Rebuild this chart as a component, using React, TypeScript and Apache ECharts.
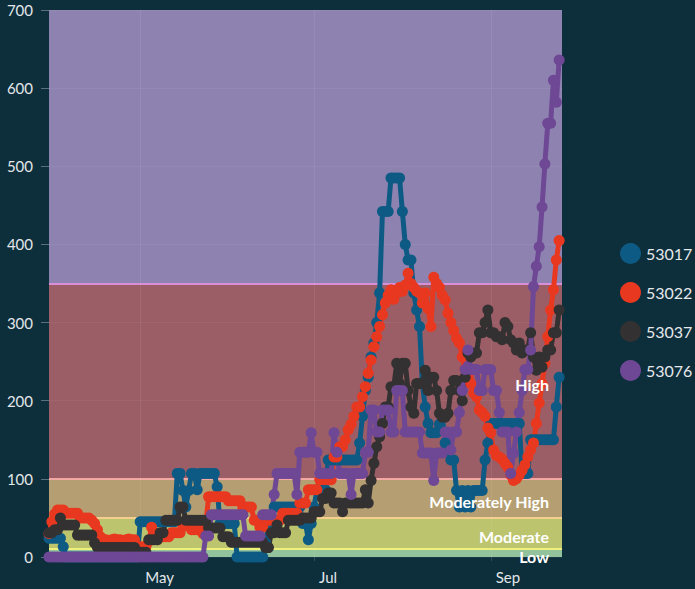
import React, { useEffect, useRef } from "react";
import * as echarts from "echarts";

// ---- x domain (daily) ----
const START_DATE = "2021-03-30";
const DAY_COUNT = 181;
const MONTH_TICKS = ["05-01", "07-01", "09-01"];
const MONTH_LABELS: Record<string, string> = { "05": "May", "07": "Jul", "09": "Sep" };

// ---- series ----
const SERIES_NAMES = ["53017", "53022", "53037", "53076"];
const SERIES_COLORS = ["#0d5a84", "#e8381f", "#333131", "#6e4795"];

const s53017 = [
  24, 24, 24, 24, 24, 13, 0, 0, 0, 0,
  0, 0, 0, 0, 0, 0, 0, 0, 0, 0,
  0, 0, 0, 0, 0, 0, 0, 0, 0, 0,
  0, 0, 45, 45, 45, 45, 45, 45, 45, 45,
  45, 45, 45, 45, 45, 107, 107, 85, 64, 85,
  107, 107, 86, 107, 107, 107, 107, 107, 107, 90,
  43, 43, 43, 43, 43, 43, 0, 0, 0, 0,
  0, 0, 0, 0, 0, 0, 18, 43, 43, 64,
  64, 64, 64, 64, 64, 64, 64, 64, 64, 43,
  43, 22, 43, 64, 86, 86, 86, 86, 124, 124,
  124, 124, 124, 124, 124, 124, 124, 124, 124, 146,
  180, 213, 230, 256, 274, 300, 338, 442, 442, 442,
  485, 485, 485, 485, 442, 400, 380, 380, 338, 316,
  295, 222, 192, 171, 159, 159, 159, 170, 180, 146,
  137, 124, 124, 85, 64, 85, 64, 85, 64, 85,
  85, 85, 85, 124, 146, 171, 171, 171, 171, 171,
  171, 171, 171, 171, 171, 171, 107, 107, 107, 150,
  150, 150, 150, 150, 150, 150, 150, 150, 192, 230,
];

const s53022 = [
  30, 45, 55, 60, 60, 60, 56, 56, 56, 56,
  56, 50, 50, 50, 50, 47, 43, 35, 26, 22,
  22, 21, 22, 23, 22, 22, 21, 22, 23, 22,
  22, 13, 13, 13, 13, 20, 38, 30, 22, 26,
  26, 26, 26, 31, 31, 31, 31, 40, 40, 40,
  35, 35, 35, 41, 30, 41, 77, 77, 77, 77,
  77, 77, 77, 72, 72, 72, 72, 72, 64, 64,
  64, 64, 47, 47, 38, 38, 47, 47, 47, 47,
  47, 47, 56, 56, 56, 56, 56, 56, 69, 69,
  69, 86, 86, 86, 86, 99, 99, 99, 99, 99,
  128, 128, 141, 141, 150, 163, 170, 180, 192, 192,
  205, 218, 235, 252, 269, 282, 295, 310, 325, 335,
  342, 330, 338, 345, 340, 348, 363, 350, 345, 340,
  338, 325, 338, 318, 295, 358, 350, 345, 335, 329,
  312, 300, 290, 280, 274, 256, 240, 230, 222, 210,
  205, 188, 185, 180, 165, 159, 137, 130, 128, 125,
  120, 115, 105, 98, 100, 105, 111, 118, 128, 137,
  146, 171, 197, 222, 248, 282, 316, 342, 380, 405,
];

const s53037 = [
  31, 31, 35, 35, 50, 41, 41, 41, 41, 41,
  28, 28, 28, 28, 28, 28, 18, 12, 12, 12,
  12, 12, 12, 12, 12, 12, 12, 12, 12, 12,
  12, 6, 6, 6, 6, 22, 22, 22, 22, 31,
  31, 47, 47, 47, 47, 47, 64, 64, 47, 47,
  47, 47, 47, 47, 47, 47, 37, 37, 37, 37,
  37, 26, 26, 26, 19, 19, 19, 19, 19, 19,
  19, 19, 19, 19, 19, 19, 12, 12, 31, 31,
  41, 31, 31, 31, 47, 47, 47, 47, 47, 50,
  50, 50, 50, 58, 58, 58, 75, 75, 82, 82,
  69, 69, 69, 58, 69, 69, 69, 69, 69, 69,
  69, 86, 69, 98, 120, 141, 154, 171, 192, 192,
  218, 218, 248, 222, 248, 248, 213, 192, 184, 222,
  222, 222, 239, 213, 230, 230, 213, 184, 179, 179,
  184, 213, 226, 226, 213, 200, 230, 261, 256, 261,
  261, 287, 287, 300, 316, 287, 287, 282, 282, 278,
  300, 295, 278, 274, 265, 274, 261, 265, 265, 287,
  256, 239, 256, 243, 256, 265, 265, 287, 287, 316,
];

const s53076 = [
  0, 0, 0, 0, 0, 0, 0, 0, 0, 0,
  0, 0, 0, 0, 0, 0, 0, 0, 0, 0,
  0, 0, 0, 0, 0, 0, 0, 0, 0, 0,
  0, 0, 0, 0, 0, 0, 0, 0, 0, 0,
  0, 0, 0, 0, 0, 0, 0, 0, 0, 0,
  0, 0, 0, 0, 0, 27, 27, 54, 54, 54,
  54, 54, 54, 54, 54, 54, 54, 54, 54, 27,
  27, 27, 27, 27, 27, 54, 54, 54, 54, 80,
  107, 107, 107, 107, 107, 107, 107, 80, 134, 134,
  134, 134, 159, 134, 134, 107, 107, 107, 107, 107,
  159, 134, 107, 107, 107, 107, 80, 107, 107, 107,
  107, 134, 134, 188, 188, 160, 160, 188, 188, 188,
  160, 160, 213, 213, 213, 160, 160, 160, 160, 160,
  160, 133, 133, 133, 133, 98, 133, 133, 133, 160,
  160, 137, 160, 160, 185, 213, 240, 265, 240, 240,
  240, 213, 213, 240, 240, 240, 213, 213, 185, 160,
  160, 160, 107, 133, 160, 185, 213, 240, 240, 265,
  346, 372, 397, 448, 503, 555, 555, 610, 582, 636,
];

const SERIES_VALUES = [s53017, s53022, s53037, s53076];

// ---- y axis ----
const Y_MIN = 0;
const Y_MAX = 700;
const Y_STEP = 100;

// ---- risk bands ----
const BAND_EDGES = [0, 10, 50, 100, 350, 700];
const BAND_NAMES = ["Low", "Moderate", "Moderately High", "High", ""];
const BAND_COLORS = ["#93c39d", "#bcc46e", "#b59f72", "#9c5e66", "#8e83b0"];
const BAND_LINE_VALUES = [10, 50, 100, 350];
const BAND_LINE_COLORS = ["#eef27c", "#f5cf90", "#f2a6a2", "#d98fd8"];

const FONT = "Lato, 'Open Sans', sans-serif";
const BG = "#0d2e3b";

function buildDates(start: string, n: number): string[] {
  const d0 = Date.parse(start + "T00:00:00Z");
  const out: string[] = [];
  for (let i = 0; i < n; i++) {
    out.push(new Date(d0 + i * 86400000).toISOString().slice(0, 10));
  }
  return out;
}

export default function App() {
  const ref = useRef<HTMLDivElement>(null);

  useEffect(() => {
    document.body.style.margin = "0";
    document.body.style.background = BG;
    if (!ref.current) return;
    const chart = echarts.init(ref.current, undefined, { renderer: "svg" });
    const dates = buildDates(START_DATE, DAY_COUNT);
    const isMonthTick = (_i: number, v: string) => MONTH_TICKS.includes(String(v).slice(5));

    const bandAreas = BAND_NAMES.map((name, k) => [
      {
        name,
        yAxis: BAND_EDGES[k],
        itemStyle: { color: BAND_COLORS[k], opacity: 1 },
        label: { show: false },
      },
      { yAxis: BAND_EDGES[k + 1] },
    ]);

    const bandLabelAreas = BAND_NAMES.filter((n) => n !== "").map((name) => {
      const k = BAND_NAMES.indexOf(name);
      return [
        {
          name,
          yAxis: BAND_EDGES[k],
          itemStyle: { color: "rgba(0,0,0,0)", opacity: 0 },
          label: {
            show: true,
            position: "insideRight",
            distance: 13,
            offset: [0, 3],
            color: "#ffffff",
            fontWeight: "bold",
            fontSize: 16,
            fontFamily: FONT,
          },
        },
        { yAxis: BAND_EDGES[k + 1] },
      ];
    });

    const bandLines = BAND_LINE_VALUES.map((v, k) => ({
      yAxis: v,
      lineStyle: { color: BAND_LINE_COLORS[k], width: 2, type: "solid", opacity: 1 },
    }));

    const option: any = {
      animation: false,
      backgroundColor: BG,
      grid: { left: 49, right: 133, top: 10, bottom: 32, containLabel: false },
      legend: {
        orient: "vertical",
        left: 615,
        top: 238,
        itemWidth: 21,
        itemHeight: 21,
        itemGap: 18,
        icon: "circle",
        data: SERIES_NAMES,
        textStyle: { color: "#e6e9eb", fontSize: 16, fontFamily: FONT },
      },
      xAxis: {
        type: "category",
        data: dates,
        boundaryGap: false,
        z: 2,
        axisLine: { show: false },
        axisTick: {
          show: true,
          interval: isMonthTick,
          length: 4,
          lineStyle: { color: "rgba(255,255,255,0.15)" },
        },
        axisLabel: {
          interval: isMonthTick,
          formatter: (v: string) => MONTH_LABELS[String(v).slice(5, 7)] || "",
          align: "left",
          padding: [0, 0, 0, 5],
          margin: 12,
          color: "#e3e7ea",
          fontSize: 15,
          fontFamily: FONT,
        },
        splitLine: {
          show: true,
          interval: isMonthTick,
          lineStyle: { color: "rgba(255,255,255,0.07)", width: 1 },
        },
      },
      yAxis: {
        type: "value",
        min: Y_MIN,
        max: Y_MAX,
        interval: Y_STEP,
        z: 2,
        axisLine: { show: false },
        axisTick: { show: true, length: 8, lineStyle: { color: "#5a6f7b" } },
        axisLabel: { color: "#e3e7ea", fontSize: 15, margin: 16, fontFamily: FONT },
        splitLine: { show: true, lineStyle: { color: "rgba(255,255,255,0.05)", width: 1 } },
      },
      series: [
        {
          name: "bands",
          type: "line",
          data: [],
          z: 1,
          silent: true,
          markArea: { silent: true, z: 1, data: bandAreas },
          markLine: {
            silent: true,
            z: 1,
            symbol: ["none", "none"],
            label: { show: false },
            data: bandLines,
          },
        },
        ...SERIES_NAMES.map((name, k) => ({
          name,
          type: "line",
          data: SERIES_VALUES[k],
          z: 3,
          symbol: "circle",
          symbolSize: 11,
          showSymbol: true,
          showAllSymbol: true,
          lineStyle: { color: SERIES_COLORS[k], width: 5 },
          itemStyle: { color: SERIES_COLORS[k] },
        })),
        {
          name: "bandLabels",
          type: "line",
          data: [],
          z: 10,
          silent: true,
          markArea: { silent: true, z: 10, data: bandLabelAreas },
        },
      ],
    };

    chart.setOption(option);
    return () => chart.dispose();
  }, []);

  return <div ref={ref} style={{ width: 695, height: 589, background: BG }} />;
}
